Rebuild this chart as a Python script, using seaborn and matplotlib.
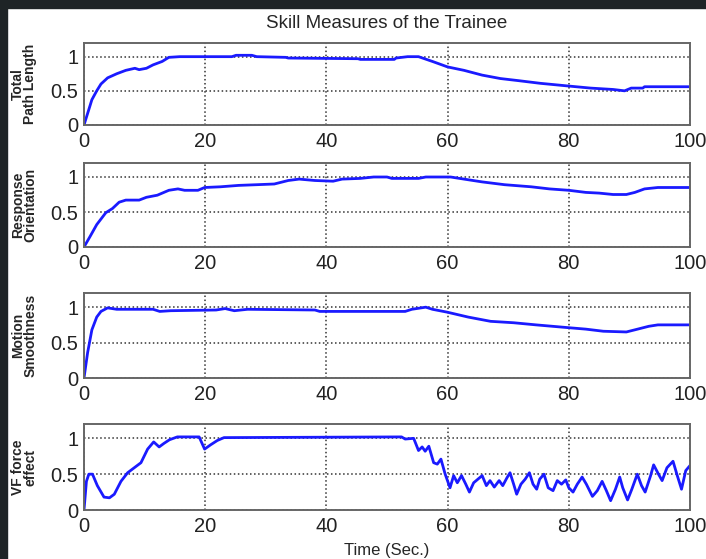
import numpy as np
import pandas as pd
import seaborn as sns
import matplotlib.pyplot as plt
from matplotlib.patches import Rectangle

# values
t_path = [0, 0.6, 1.3, 2.1, 2.8, 3.9, 5.4, 6.9, 8.4, 9.1, 10.3, 11.4, 12.9, 14, 15.8, 24.4, 25.1,
          27.7, 28.5, 33.3, 33.7, 45.2, 45.6, 51.2, 51.5, 53.4, 55.2, 57.5, 60, 62.7, 65.7, 68.7,
          71.6, 75.3, 80, 83.6, 87.3, 89.2, 90.3, 92.2, 92.5, 100]
path_length = [0, 0.17, 0.37, 0.5, 0.6, 0.69, 0.75, 0.8, 0.83, 0.81, 0.83, 0.88, 0.93, 0.99, 1.0, 1.0,
               1.02, 1.02, 1.0, 0.99, 0.98, 0.97, 0.96, 0.96, 0.98, 1.0, 1.0, 0.93, 0.85, 0.8, 0.73,
               0.68, 0.65, 0.61, 0.57, 0.54, 0.52, 0.5, 0.54, 0.54, 0.56, 0.56]

t_orient = [0, 1.0, 2.1, 3.6, 4.7, 5.8, 6.9, 9.1, 10.3, 12.1, 14, 15.5, 16.6, 18.8, 19.9, 22.5, 25.5,
            28.5, 31.4, 33.7, 35.5, 38.1, 41.1, 42.6, 45.6, 47.8, 50, 50.8, 55.2, 56.4, 60.5, 62.7,
            65.7, 69.4, 73.8, 76.8, 80, 82.8, 85, 87.3, 89.5, 90.9, 92.5, 94.7, 100]
orientation = [0, 0.15, 0.32, 0.49, 0.55, 0.64, 0.67, 0.67, 0.71, 0.74, 0.81, 0.83, 0.81, 0.81, 0.85,
               0.86, 0.88, 0.89, 0.9, 0.95, 0.97, 0.95, 0.94, 0.97, 0.98, 1.0, 1.0, 0.98, 0.98, 1.0,
               1.0, 0.97, 0.93, 0.89, 0.86, 0.83, 0.81, 0.78, 0.77, 0.75, 0.75, 0.78, 0.83, 0.85, 0.85]

t_smooth = [0, 0.6, 1.3, 2.1, 2.8, 3.9, 5.4, 11.4, 12.5, 14.3, 21.8, 23.3, 24.8, 27, 38.1, 38.9, 53,
            54.1, 56.4, 57.5, 59.9, 63.4, 67.1, 70.9, 74.6, 80, 82.8, 85.7, 89.5, 90.9, 93.2, 94.7, 100]
smoothness = [0, 0.36, 0.68, 0.86, 0.94, 0.99, 0.97, 0.97, 0.94, 0.95, 0.96, 0.98, 0.95, 0.97, 0.96,
              0.94, 0.94, 0.97, 1.0, 0.97, 0.93, 0.86, 0.8, 0.78, 0.75, 0.71, 0.69, 0.66, 0.65, 0.68,
              0.73, 0.75, 0.75]

t_vf = [0, 0.4, 0.8, 1.4, 2.2, 3.3, 4.2, 5, 6.1, 7.2, 8.3, 9.4, 10.5, 11.5, 12.4, 13.2, 14.1, 15.4,
        19, 19.9, 20.9, 22, 23.1, 52.4, 53.0, 54.4, 55.2, 55.8, 56.3, 56.9, 57.7, 58.3, 58.9, 59.6,
        60.4, 61.0, 61.6, 62.3, 63.0, 63.6, 64.3, 65.0, 65.7, 66.4, 67.0, 67.7, 68.5, 69.1, 69.8,
        70.3, 70.9, 71.4, 72.1, 72.8, 73.5, 74.1, 74.7, 75.2, 75.9, 76.6, 77.4, 78.1, 78.8, 79.5,
        80.0, 80.7, 81.4, 82.2, 82.9, 83.9, 84.7, 85.5, 86.2, 86.9, 87.7, 88.4, 88.9, 89.7, 90.4,
        91.3, 92.0, 92.6, 93.5, 94.0, 94.8, 95.4, 96.2, 97.2, 97.9, 98.6, 99.3, 100]
vf_force = [0, 0.4, 0.5, 0.5, 0.34, 0.18, 0.17, 0.22, 0.4, 0.52, 0.59, 0.66, 0.85, 0.95, 0.88, 0.93,
            0.98, 1.02, 1.02, 0.85, 0.91, 0.97, 1.01, 1.02, 0.99, 1.0, 0.83, 0.88, 0.82, 0.89, 0.66,
            0.64, 0.71, 0.5, 0.31, 0.48, 0.38, 0.48, 0.36, 0.25, 0.38, 0.43, 0.48, 0.34, 0.41, 0.32,
            0.41, 0.34, 0.45, 0.52, 0.36, 0.22, 0.36, 0.43, 0.52, 0.36, 0.29, 0.43, 0.5, 0.31, 0.27,
            0.41, 0.36, 0.42, 0.31, 0.25, 0.36, 0.46, 0.36, 0.19, 0.27, 0.4, 0.27, 0.13, 0.29, 0.46,
            0.31, 0.14, 0.29, 0.5, 0.34, 0.25, 0.48, 0.63, 0.5, 0.41, 0.59, 0.68, 0.48, 0.29, 0.55, 0.62]

panels = [
    (t_path, path_length, "Total\nPath Length"),
    (t_orient, orientation, "Response\nOrientation"),
    (t_smooth, smoothness, "Motion\nSmoothness"),
    (t_vf, vf_force, "VF force\neffect"),
]

sns.set_style("white")
plt.rcParams['font.family'] = ['Liberation Sans', 'DejaVu Sans']

fig = plt.figure(figsize=(7.06, 5.59), dpi=100)
W, H = 706, 559

# dark frame of the screenshot (left and top)
fig.patches.append(Rectangle((0, 0), 7 / W, 1, transform=fig.transFigure, color='#1e2426', zorder=-1))
fig.patches.append(Rectangle((0, 1 - 8 / H), 1, 8 / H, transform=fig.transFigure, color='#1e2426', zorder=-1))

# axes boxes in pixels: (top, bottom)
boxes = [(43, 125), (163, 247), (293, 378), (424, 510)]
left, right = 84, 690

for i, (t, v, label) in enumerate(panels):
    top, bottom = boxes[i]
    ax = fig.add_axes([left / W, 1 - bottom / H, (right - left) / W, (bottom - top) / H])
    df = pd.DataFrame({'t': t, 'v': v})
    sns.lineplot(data=df, x='t', y='v', ax=ax, color='#1a1aff', linewidth=2)
    ax.set_xlim(0, 100)
    ax.set_ylim(0, 1.2)
    ax.set_xticks([0, 20, 40, 60, 80, 100])
    ax.set_yticks([0, 0.5, 1])
    ax.set_yticklabels(['0', '0.5', '1'])
    ax.grid(True, linestyle=':', color='#333333', linewidth=1.1)
    ax.tick_params(direction='in', length=4, labelsize=14.5, colors='#222222')
    ax.tick_params(axis='x', pad=5)
    ax.tick_params(axis='y', pad=4)
    for s in ax.spines.values():
        s.set_color('#666666')
        s.set_linewidth(1.4)
    ax.set_xlabel('')
    ax.set_ylabel(label, fontsize=10, fontweight='bold', linespacing=0.85)
    ax.yaxis.set_label_coords(-0.077, 0.5)
    if i == 0:
        ax.set_title('Skill Measures of the Trainee', fontsize=13.5, pad=11)
    if i == 3:
        ax.set_xlabel('Time (Sec.)', fontsize=12, labelpad=5)

fig.savefig('out.png', dpi=100)
